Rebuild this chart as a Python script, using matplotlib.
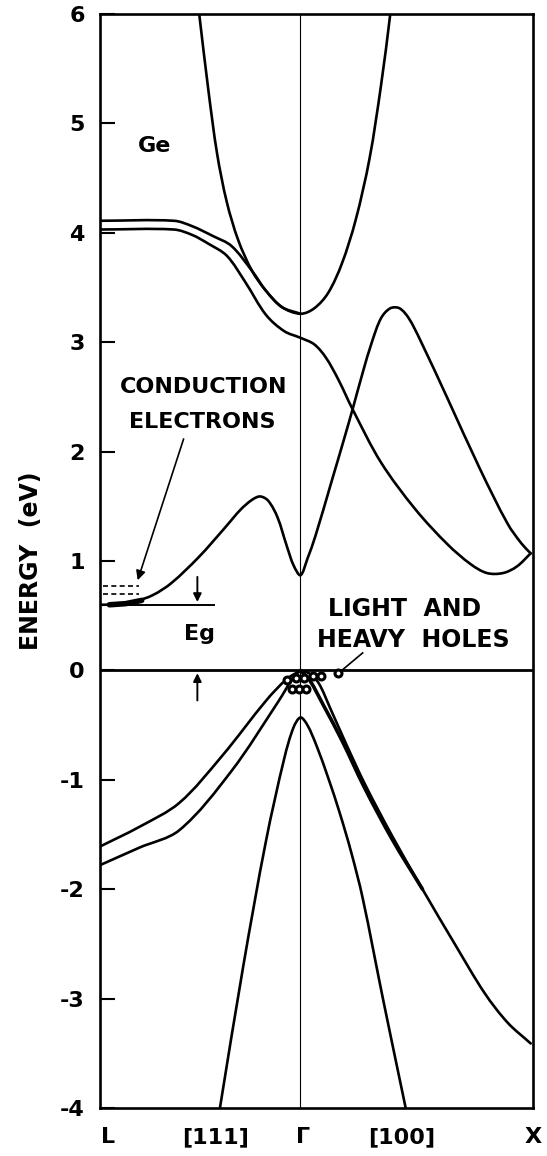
import numpy as np
import matplotlib
matplotlib.use("Agg")
import matplotlib.pyplot as plt
from matplotlib.path import Path
from matplotlib.patches import PathPatch

# wave vector k in units of 2pi/a : L at -sqrt(3)/2, Gamma at 0, X at 1
K_L, K_X = -0.871, 1.0

# conduction bands (k, energy in eV)
cb1_k = [-0.871, -0.80, -0.72, -0.64, -0.56, -0.44, -0.33, -0.26, -0.21, -0.175, -0.14, -0.10, -0.06, -0.03, 0.0,
         0.03, 0.065, 0.134, 0.19, 0.228, 0.27, 0.31, 0.35, 0.39, 0.43, 0.47, 0.52, 0.64, 0.78, 0.90, 0.96, 1.0]
cb1_e = [0.60, 0.605, 0.63, 0.69, 0.80, 1.04, 1.30, 1.47, 1.56, 1.59, 1.55, 1.40, 1.14, 0.96, 0.87,
         1.02, 1.23, 1.72, 2.12, 2.40, 2.72, 3.00, 3.22, 3.31, 3.31, 3.22, 3.02, 2.48, 1.84, 1.34, 1.16, 1.07]

cb2_k = [-0.871, -0.55, -0.47, -0.40, -0.32, -0.24, -0.15, -0.07, 0.0,
         0.06, 0.11, 0.164, 0.228, 0.35, 0.50, 0.64, 0.74, 0.81, 0.88, 0.94, 1.0]
cb2_e = [4.03, 4.03, 3.98, 3.90, 3.79, 3.55, 3.25, 3.10, 3.04,
         2.98, 2.86, 2.66, 2.38, 1.90, 1.47, 1.15, 0.97, 0.89, 0.89, 0.95, 1.07]

cb3_k = [-0.871, -0.55, -0.47, -0.38, -0.30, -0.21, -0.15, -0.08, 0.0]
cb3_e = [4.11, 4.11, 4.06, 3.97, 3.88, 3.65, 3.47, 3.32, 3.26]

cb4_k = [-0.46, -0.44, -0.40, -0.362, -0.32, -0.27, -0.21, -0.15, -0.08, 0.0,
         0.06, 0.12, 0.18, 0.24, 0.30, 0.35, 0.39, 0.40]
cb4_e = [6.35, 6.00, 5.30, 4.72, 4.28, 3.93, 3.65, 3.47, 3.32, 3.26,
         3.31, 3.45, 3.72, 4.12, 4.68, 5.35, 6.00, 6.20]

# valence bands
vb_hh_l_k = [-0.871, -0.70, -0.526, -0.34, -0.147, -0.06, 0.0]
vb_hh_l_e = [-1.61, -1.43, -1.21, -0.78, -0.27, -0.08, 0.0]
vb_lh_l_k = [-0.871, -0.70, -0.526, -0.30, -0.095, -0.03, 0.0]
vb_lh_l_e = [-1.78, -1.62, -1.46, -0.92, -0.28, -0.06, 0.0]

vb_hh_r_k = [0.0, 0.04, 0.08, 0.13, 0.20, 0.28, 0.40, 0.53, 0.67, 0.80, 0.90, 1.0]
vb_hh_r_e = [0.0, -0.03, -0.12, -0.35, -0.68, -1.04, -1.52, -2.00, -2.50, -2.95, -3.22, -3.41]
vb_lh_r_k = [0.0, 0.04, 0.10, 0.18, 0.28, 0.40, 0.53]
vb_lh_r_e = [0.0, -0.09, -0.32, -0.64, -1.08, -1.55, -2.00]

vb_so_k = [-0.35, -0.25, -0.15, -0.07, -0.03, 0.0, 0.03, 0.07, 0.12, 0.17, 0.22, 0.27, 0.36, 0.457]
vb_so_e = [-4.00, -2.72, -1.56, -0.80, -0.52, -0.43, -0.50, -0.69, -0.98, -1.30, -1.66, -2.08, -3.02, -4.00]

# free carriers
hole_k = [-0.06, -0.035, -0.005, 0.025, -0.02, 0.015, 0.055, 0.09, 0.165]
hole_e = [-0.09, -0.17, -0.17, -0.17, -0.07, -0.07, -0.05, -0.05, -0.02]
elec_level_e = [0.77, 0.70]

e_gap = 0.60
y_ticks = [6, 5, 4, 3, 2, 1, 0, -1, -2, -3, -4]
x_tick_pos = [-0.836, -0.37, 0.01, 0.44, 1.01]
x_tick_lab = ["L", "[111]", "Γ", "[100]", "X"]

# rough screen scale (px per unit) so the spline is parameterised by drawn length
SX, SY = 232.0, 109.4


def smooth(ks, es):
    pts = np.column_stack([ks, es]).astype(float)
    scaled = pts * [SX, SY]
    t = np.concatenate([[0], np.cumsum(np.hypot(*np.diff(scaled, axis=0).T))])
    n = len(pts)
    m = np.zeros_like(pts)
    m[0] = (pts[1] - pts[0]) / (t[1] - t[0])
    m[-1] = (pts[-1] - pts[-2]) / (t[-1] - t[-2])
    for i in range(1, n - 1):
        m[i] = (pts[i + 1] - pts[i - 1]) / (t[i + 1] - t[i - 1])
    verts = [pts[0]]
    codes = [Path.MOVETO]
    for i in range(n - 1):
        dt = t[i + 1] - t[i]
        verts += [pts[i] + m[i] * dt / 3, pts[i + 1] - m[i + 1] * dt / 3, pts[i + 1]]
        codes += [Path.CURVE4] * 3
    return Path(verts, codes)


def band(ax, ks, es, lw=1.9):
    ax.add_patch(PathPatch(smooth(ks, es), facecolor="none", edgecolor="black",
                           lw=lw, capstyle="round", joinstyle="round"))


fig = plt.figure(figsize=(5.47, 11.56), dpi=100)
ax = fig.add_axes([0.1828, 0.0415, 0.7916, 0.9464])
ax.set_xlim(K_L, K_X)
ax.set_ylim(-4, 6)

for ks, es in [(cb1_k, cb1_e), (cb2_k, cb2_e), (cb3_k, cb3_e), (cb4_k, cb4_e),
               (vb_hh_l_k, vb_hh_l_e), (vb_lh_l_k, vb_lh_l_e),
               (vb_hh_r_k, vb_hh_r_e), (vb_so_k, vb_so_e)]:
    band(ax, ks, es)
band(ax, vb_lh_r_k, vb_lh_r_e, lw=2.6)

# Gamma line and valence band edge
ax.axvline(0, color="black", lw=0.8)
ax.axhline(0, color="black", lw=2.0)

# band gap marker
ax.plot([K_L, -0.375], [e_gap, e_gap], color="black", lw=1.4)
ax.annotate("", xy=(-0.448, e_gap), xytext=(-0.448, 0.88),
            arrowprops=dict(arrowstyle="-|>", color="black", lw=1.4, mutation_scale=12))
ax.annotate("", xy=(-0.448, 0.0), xytext=(-0.448, -0.30),
            arrowprops=dict(arrowstyle="-|>", color="black", lw=1.4, mutation_scale=12))
ax.text(-0.44, 0.33, "Eg", ha="center", va="center", fontsize=16, fontweight="bold")

# electrons at the L valley
for e in elec_level_e:
    ax.plot([-0.858, -0.70], [e, e], color="black", lw=1.2, ls=(0, (3, 2)))
ax.plot([-0.83, -0.76, -0.69], [0.60, 0.61, 0.64], color="black", lw=4, solid_capstyle="round")

# holes at Gamma
ax.plot(hole_k, hole_e, ls="none", marker="o", ms=5, mfc="white", mec="black", mew=2.2)

ax.text(-0.42, 2.59, "CONDUCTION", ha="center", va="center", fontsize=16, fontweight="bold")
ax.text(-0.425, 2.27, "ELECTRONS", ha="center", va="center", fontsize=16, fontweight="bold")
ax.annotate("", xy=(-0.711, 0.80), xytext=(-0.504, 2.14),
            arrowprops=dict(arrowstyle="-|>", color="black", lw=1.2, mutation_scale=14))

ax.text(0.453, 0.56, "LIGHT  AND", ha="center", va="center", fontsize=17, fontweight="bold")
ax.text(0.49, 0.28, "HEAVY  HOLES", ha="center", va="center", fontsize=17, fontweight="bold")
ax.plot([0.27, 0.185], [0.16, 0.01], color="black", lw=1.2)

ax.text(-0.634, 4.79, "Ge", ha="center", va="center", fontsize=16, fontweight="bold")

# axes
for side in ["left", "right", "top", "bottom"]:
    ax.spines[side].set_linewidth(1.9)
ax.set_yticks(y_ticks)
ax.set_yticklabels([str(v) for v in y_ticks], fontsize=16, fontweight="bold")
ax.tick_params(axis="y", direction="in", length=11, width=1.5, pad=11)
ax.set_xticks(x_tick_pos)
ax.set_xticklabels(x_tick_lab, fontsize=16, fontweight="bold")
ax.tick_params(axis="x", length=0, pad=14)
ax.set_ylabel("ENERGY  (eV)", fontsize=17, fontweight="bold", labelpad=12)

fig.savefig("out.png", dpi=100)
